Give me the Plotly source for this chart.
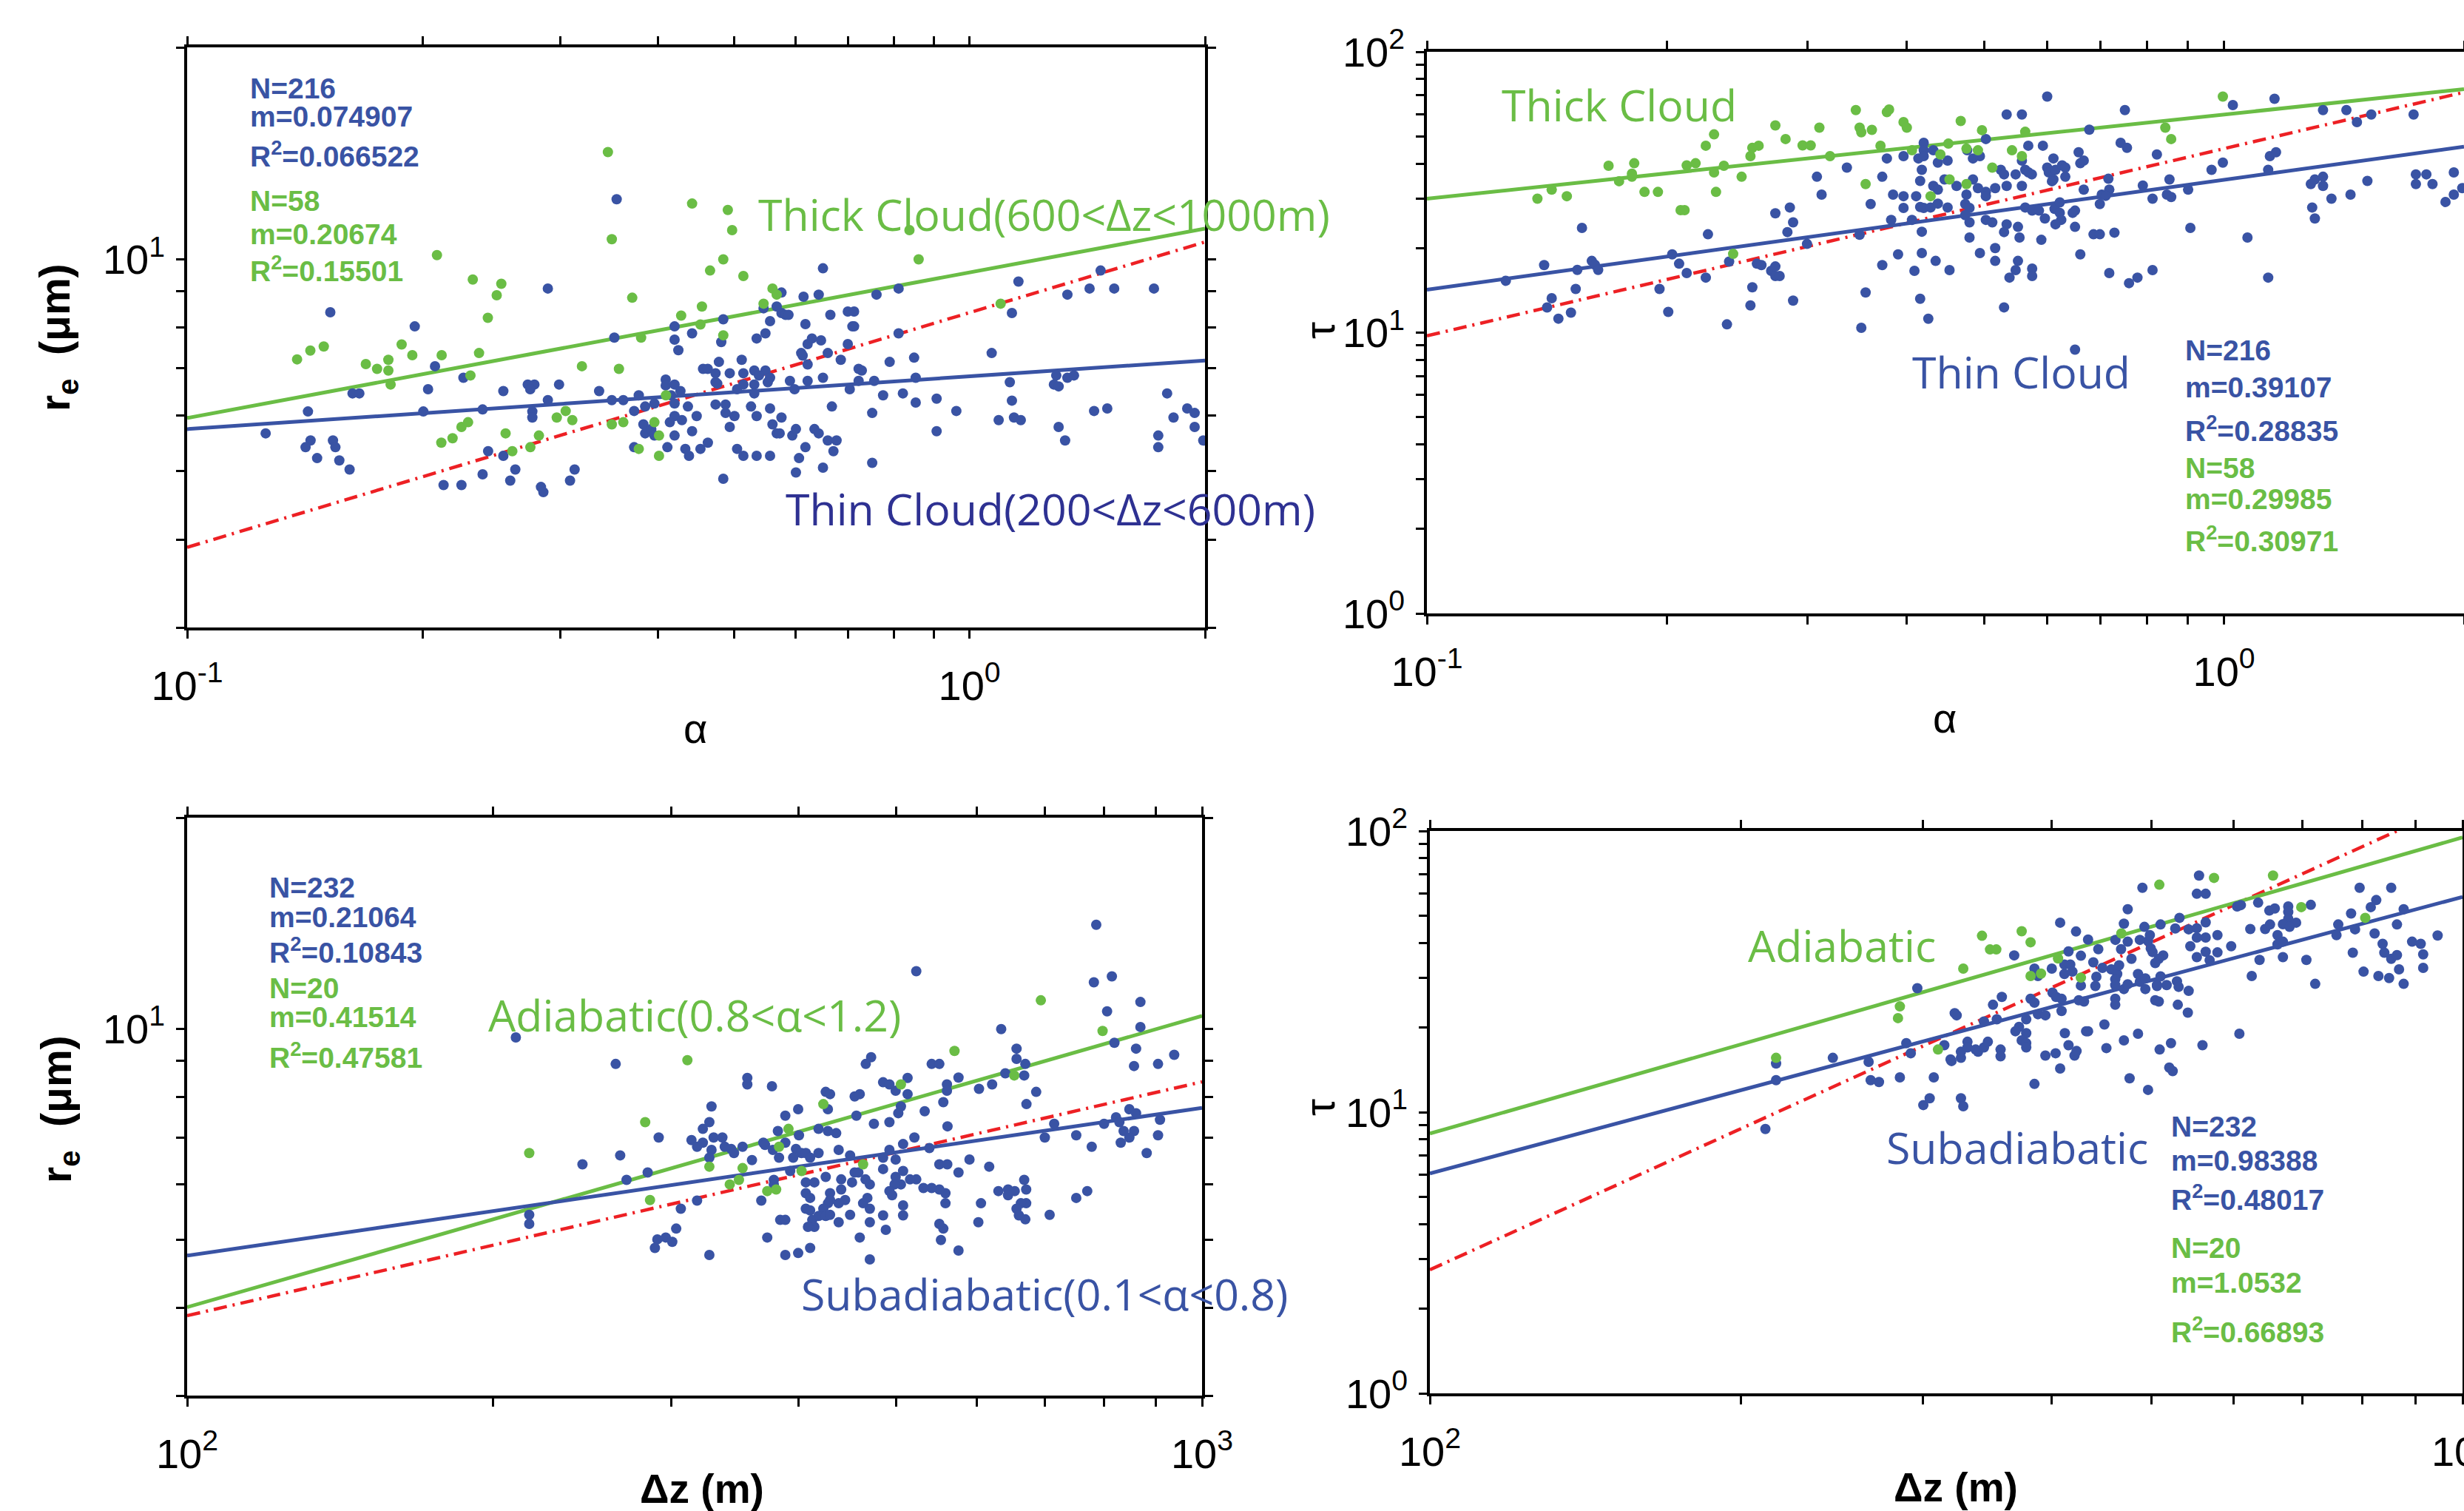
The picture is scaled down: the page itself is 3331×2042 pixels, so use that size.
import math
import plotly.graph_objects as go

W, H = 3331, 2042

# ------------------------------------------------------------------ data
# Panel (a)  alpha  vs  r_e (um)
thin_alpha_re = [
    (0.354, 12.17), (0.2891, 9.09), (0.1524, 8.41), (0.1954, 8.03), (0.2074, 7.05), (0.2255, 6.79),
    (0.2032, 6.54), (0.1627, 6.45), (0.166, 6.45), (0.1427, 6.08), (0.2004, 6.08), (0.2386, 6.12),
    (0.2536, 6.50), (0.2725, 6.64), (0.2779, 6.64), (0.2745, 6.54), (0.2988, 6.64), (0.2891, 6.31),
    (0.2762, 6.08), (0.2762, 5.96), (0.3362, 6.50), (0.349, 6.31), (0.361, 6.31), (0.3778, 6.41),
    (0.385, 6.18), (0.3727, 6.09), (0.3956, 6.24), (0.409, 6.75), (0.409, 6.62), (0.4198, 6.64),
    (0.4271, 6.50), (0.4155, 6.41), (0.4198, 6.24), (0.4366, 6.18), (0.4198, 5.99), (0.414, 5.87),
    (0.429, 5.91), (0.448, 5.99), (0.383, 5.83), (0.385, 5.66), (0.392, 5.74), (0.3956, 5.62),
    (0.4198, 5.62), (0.442, 5.70), (0.3727, 5.41), (0.411, 5.41), (0.4333, 5.38), (0.438, 5.26),
    (0.453, 5.38), (0.126, 5.66), (0.1438, 5.53), (0.1417, 5.41), (0.1536, 5.53), (0.1547, 5.41),
    (0.1466, 5.22), (0.1565, 5.18), (0.1613, 5.03), (0.2425, 5.34), (0.2536, 5.26), (0.2627, 5.03),
    (0.2386, 4.95), (0.2588, 4.85), (0.2127, 4.78), (0.2242, 4.78), (0.2833, 4.75), (0.2853, 4.67),
    (0.3086, 4.85), (0.3128, 5.03), (0.3516, 7.74), (0.4198, 8.03), (0.4198, 7.69), (0.4245, 7.43),
    (0.442, 7.85),
    (0.6497, 9.71), (1.155, 9.30), (0.7606, 8.91), (0.8117, 9.09), (1.334, 8.91), (1.424, 9.09),
    (1.471, 9.64), (1.531, 9.09), (1.721, 9.09), (0.575, 8.97), (0.6136, 8.85), (0.6416, 8.91),
    (1.133, 8.39), (0.5455, 8.52), (0.567, 8.57), (0.575, 8.39), (0.582, 8.34), (0.587, 8.34),
    (0.4845, 8.22), (0.556, 8.17), (0.617, 8.09), (0.664, 8.34), (0.699, 8.43), (0.712, 8.43),
    (0.7085, 8.03), (0.712, 8.03), (0.5345, 7.72), (0.5485, 7.85), (0.4816, 7.63), (0.621, 7.58),
    (0.629, 7.72), (0.646, 7.67), (0.6094, 7.36), (0.612, 7.30), (0.621, 7.09), (0.659, 7.36),
    (0.699, 7.58), (0.6847, 7.20), (0.8117, 7.85), (0.7906, 7.15), (0.8496, 7.25), (1.0675, 7.36),
    (0.4783, 7.15), (0.5115, 7.20), (0.4565, 6.99), (0.4628, 6.99), (0.4736, 6.89), (0.4938, 6.89),
    (0.514, 6.89), (0.5308, 6.95), (0.5485, 6.95), (0.5381, 6.84), (0.556, 6.79), (0.5523, 6.69),
    (0.5308, 6.64), (0.514, 6.64), (0.4736, 6.69), (0.476, 6.66), (0.5046, 6.54), (0.5308, 6.45),
    (0.5895, 6.72), (0.5976, 6.54), (0.621, 6.72), (0.6497, 6.79), (0.7216, 6.99), (0.7284, 6.95),
    (0.7216, 6.72), (0.703, 6.54), (0.7554, 6.72), (0.7755, 6.41), (0.822, 6.45), (0.8536, 6.79),
    (0.8536, 6.26), (0.9078, 6.34), (0.9078, 5.70), (0.962, 6.09), (1.126, 6.69), (1.133, 6.30),
    (1.0897, 5.91), (1.14, 5.96), (1.163, 5.91), (1.291, 6.84), (1.282, 6.64), (1.30, 6.60),
    (1.334, 6.79), (1.36, 6.84), (1.30, 5.78), (1.325, 5.53), (1.443, 6.09), (1.50, 6.14),
    (1.789, 6.45), (1.823, 5.96), (1.898, 6.14), (1.94, 6.05), (1.94, 5.78), (1.99, 5.53),
    (1.743, 5.62), (1.743, 5.41), (0.463, 5.49), (0.4736, 6.22), (0.4878, 6.22), (0.4878, 6.05),
    (0.5007, 5.99), (0.5257, 6.18), (0.5345, 5.99), (0.556, 6.14), (0.575, 5.96), (0.4938, 5.78),
    (0.56, 5.83), (0.567, 5.66), (0.572, 5.66), (0.5936, 5.62), (0.60, 5.74), (0.6336, 5.74),
    (0.6416, 5.66), (0.659, 5.53), (0.6762, 5.53), (0.667, 6.18), (0.751, 6.05), (0.5046, 5.38),
    (0.514, 5.26), (0.5345, 5.26), (0.556, 5.26), (0.617, 5.41), (0.6055, 5.22), (0.67, 5.34),
    (0.6497, 5.06), (0.60, 4.98), (0.751, 5.14), (0.4845, 4.88),
]
thick_alpha_re = [
    (0.345, 14.2), (0.442, 12.0), (0.349, 10.68), (0.2086, 10.14), (0.2318, 9.36), (0.2521, 9.23),
    (0.2487, 8.89), (0.2423, 8.26), (0.3706, 8.82), (0.428, 8.32), (0.455, 8.57), (0.453, 8.08),
    (0.3804, 7.74), (0.1382, 7.21), (0.1437, 7.42), (0.1495, 7.52), (0.1692, 7.10), (0.1749, 6.99),
    (0.1808, 7.20), (0.1808, 6.95), (0.182, 6.64), (0.188, 7.57), (0.194, 7.31), (0.2115, 7.31),
    (0.2361, 7.36), (0.2302, 6.84), (0.3196, 7.05), (0.3564, 6.99), (0.2242, 5.78), (0.2286, 5.87),
    (0.2113, 5.49), (0.2184, 5.57), (0.2553, 5.66), (0.2604, 5.34), (0.2746, 5.41), (0.2816, 5.62),
    (0.2968, 5.96), (0.3047, 6.09), (0.3107, 5.91), (0.349, 5.83), (0.361, 5.87), (0.3778, 5.38),
    (0.3956, 5.87), (0.401, 5.62), (0.401, 5.26), (0.4093, 6.41), (0.491, 11.75), (0.4973, 11.0),
    (0.838, 11.0), (0.4845, 10.0), (0.861, 10.0), (0.466, 9.64), (0.514, 9.47), (0.56, 9.09),
    (0.567, 8.91), (0.5455, 8.65), (0.4845, 7.80), (1.096, 8.65),
]

# Panel (b)  alpha  vs  tau
thin_alpha_tau = [
    (0.1565, 23.6), (0.1256, 15.3), (0.1403, 17.4), (0.1544, 16.73), (0.161, 18.0), (0.1625, 17.44),
    (0.164, 16.73), (0.1537, 14.3), (0.1434, 13.26), (0.1415, 12.29), (0.1462, 11.21), (0.1516, 11.78),
    (0.1958, 14.3), (0.2008, 11.85), (0.2031, 18.99), (0.2072, 17.6), (0.2118, 16.3), (0.2252, 22.4),
    (0.2238, 15.7), (0.2394, 17.9), (0.2379, 10.7), (0.2546, 12.5), (0.256, 14.5), (0.2594, 17.6),
    (0.2628, 17.4), (0.2703, 16.6), (0.2736, 17.2), (0.2736, 15.9), (0.277, 15.9), (0.2736, 26.6),
    (0.2853, 27.9), (0.288, 24.7), (0.2833, 22.8), (0.288, 13.0), (0.2998, 20.7), (0.3085, 35.9),
    (0.3127, 31.0), (0.3364, 38.7), (0.349, 22.3), (0.3551, 13.9), (0.3507, 10.4), (0.3603, 28.7),
    (0.3726, 35.9), (0.3776, 41.7), (0.3844, 31.0), (0.3962, 42.5), (0.3962, 30.6), (0.3962, 27.8),
    (0.3823, 25.2), (0.3726, 17.4), (0.39, 19.0), (0.4089, 16.6), (0.406, 25.2), (0.4109, 30.6),
    (0.4136, 41.7), (0.4157, 34.7), (0.4157, 28.0), (0.4177, 38.0), (0.42, 47.4), (0.42, 44.6),
    (0.42, 42.5), (0.4318, 33.3), (0.4318, 44.6), (0.4375, 40.3), (0.4375, 32.3), (0.42, 27.8),
    (0.4284, 27.9), (0.4177, 22.87), (0.4177, 19.2), (0.4347, 18.0), (0.4157, 13.2), (0.4256, 11.2),
    (0.4375, 28.8), (0.446, 35.1),
    (0.6, 69.3), (0.5337, 59.8), (0.5577, 59.8), (0.751, 62.0), (1.0258, 64.6), (1.157, 68.0),
    (1.331, 62.0), (1.424, 62.0), (1.468, 56.2), (1.53, 59.8), (1.729, 59.8), (0.5026, 48.9),
    (0.4762, 44.6), (0.45, 41.0), (0.4842, 41.7), (0.494, 42.5), (0.5577, 41.0), (0.5681, 46.3),
    (0.5926, 46.3), (0.6776, 52.8), (0.6109, 41.7), (0.657, 43.9), (0.6602, 40.1), (0.6668, 41.0),
    (0.7418, 47.4), (0.7555, 45.5), (0.8237, 43.1), (0.9646, 38.0), (0.9966, 40.3), (1.1416, 42.5),
    (1.162, 43.9), (1.136, 38.0), (0.5247, 38.0), (0.5297, 36.6), (0.5477, 36.6), (0.5631, 38.0),
    (0.5685, 37.2), (0.574, 36.6), (0.6, 38.7), (0.6028, 37.2), (0.6145, 38.0), (0.6264, 39.4),
    (0.6322, 38.7), (0.6322, 35.9), (0.6109, 35.1), (0.6083, 34.6), (0.5577, 33.3), (0.5337, 33.3),
    (0.5163, 32.7), (0.4842, 35.1), (0.4618, 33.3), (0.4912, 32.7), (0.5026, 31.7), (0.5026, 30.6),
    (0.4752, 31.0), (0.6668, 32.3), (0.716, 35.3), (0.8542, 35.1), (0.7909, 33.4), (0.7178, 32.3),
    (0.7024, 31.0), (0.7105, 30.7), (0.6985, 28.7), (0.8134, 30.0), (0.8479, 31.0), (0.8584, 30.4),
    (0.9015, 32.3), (1.285, 33.8), (1.30, 35.1), (1.331, 35.9), (1.331, 33.3), (1.29, 27.9),
    (1.30, 25.5), (1.3638, 30.0), (1.441, 31.0), (1.513, 34.7), (1.7405, 36.6), (1.794, 36.6),
    (1.7405, 33.8), (1.826, 33.8), (1.942, 37.2), (1.99, 32.7), (1.942, 31.0), (1.896, 29.2),
    (0.4735, 28.7), (0.4794, 27.8), (0.45, 27.9), (0.5631, 27.9), (0.5745, 27.2), (0.5859, 27.2),
    (0.6129, 27.6), (0.6222, 29.1), (0.6222, 26.7), (0.6502, 27.2), (0.6458, 26.7), (0.596, 25.5),
    (0.6248, 25.2), (0.6145, 24.3), (0.6502, 23.8), (0.4794, 24.7), (0.4735, 26.2), (0.5026, 25.2),
    (0.512, 24.7), (0.5337, 24.3), (0.5514, 23.8), (0.5297, 22.8), (0.5539, 21.8), (0.5899, 21.4),
    (0.4794, 21.8), (0.494, 19.2), (0.5163, 20.0), (0.5163, 18.0), (0.5514, 18.0), (0.5477, 16.7),
    (0.5745, 16.9), (0.5745, 15.9), (0.5381, 15.7), (0.4525, 16.7), (0.5297, 12.3), (0.6602, 19.0),
    (0.6859, 22.4), (0.6985, 22.4), (0.7286, 22.7), (0.7178, 16.3), (0.76, 15.0), (0.7787, 15.7),
    (0.8134, 16.7), (0.9073, 23.6), (1.07, 21.8), (1.136, 15.7), (0.6502, 8.70),
]
thick_alpha_tau = [
    (0.1376, 30.0), (0.1434, 32.3), (0.1498, 30.6), (0.169, 39.3), (0.1742, 34.6), (0.1808, 35.9),
    (0.1808, 36.8), (0.182, 40.1), (0.1875, 31.7), (0.1949, 31.7), (0.2081, 27.3), (0.2105, 27.3),
    (0.2118, 39.4), (0.2173, 40.1), (0.2238, 46.3), (0.2292, 50.8), (0.2292, 37.2), (0.2305, 31.7),
    (0.2358, 39.3), (0.2482, 35.9), (0.2546, 42.5), (0.256, 45.5), (0.2607, 46.3), (0.2736, 54.7),
    (0.2818, 48.9), (0.296, 46.4), (0.303, 46.4), (0.3107, 53.7), (0.3204, 42.5), (0.3452, 62.0),
    (0.349, 53.7), (0.3507, 51.7), (0.3616, 52.7), (0.3707, 46.3), (0.3776, 61.0), (0.38, 62.3),
    (0.3962, 56.2), (0.4, 53.7), (0.406, 44.6), (0.4407, 43.1), (0.3551, 33.8), (0.4284, 30.6),
    (0.2422, 19.07), (0.4674, 56.7), (0.497, 52.6), (0.451, 47.1), (0.4752, 45.2), (0.4912, 44.6),
    (0.4525, 35.1), (0.4752, 33.8), (0.512, 38.7), (0.542, 44.6), (0.5577, 42.5), (0.5631, 51.9),
    (0.844, 53.7), (0.8584, 48.9), (0.9966, 69.3),
]

# Panel (c)  delta-z (m)  vs  r_e (um)
sub_dz_re = [
    (210.8, 9.72), (264.4, 8.91), (245.2, 6.41), (267.1, 6.6), (271, 6.09), (284.3, 6.24),
    (291.5, 7.0), (217.3, 5.43), (217.3, 5.27), (306.5, 5.54), (318, 5.69), (303.3, 5.19),
    (290.6, 5.01), (296.2, 5.04), (300.6, 4.97), (289, 4.87), (327, 4.76), (328.6, 7.75),
    (327, 7.36), (322.2, 7.20), (314, 6.94), (322.2, 6.88), (318, 6.79), (330.2, 7.0),
    (336.8, 7.0), (328.6, 6.72), (327, 6.55), (338.6, 6.79), (343.6, 6.74), (345.8, 6.65),
    (352.6, 6.79), (356.4, 8.51), (356.4, 8.33), (376.9, 8.28), (360.2, 6.50), (367.9, 5.69),
    (369.6, 6.88), (371, 6.83), (377.7, 6.72), (383, 6.55), (378.5, 6.09), (378.5, 6.00),
    (384, 5.34), (388.5, 5.34), (372.9, 5.04), (388.5, 4.76), (400, 4.79), (388.5, 6.88),
    (388.5, 7.52), (400, 7.68), (398, 6.74), (392.8, 6.27), (395.5, 6.55),
    (786.6, 14.07), (522.9, 12.08), (782.4, 11.65), (815, 11.88), (806.2, 10.59), (869.5, 10.92),
    (869.5, 10.06), (634, 9.99), (819.7, 9.55), (861, 9.37), (857, 8.85), (905, 8.91),
    (938.8, 9.18), (656.5, 9.37), (656.5, 9.06), (669.7, 8.91), (668, 8.58), (640, 8.64),
    (686.4, 8.13), (671.4, 7.81), (621.1, 8.33), (602.9, 8.21), (575.5, 8.52), (560.6, 8.33),
    (560.6, 8.16), (556, 7.86), (541.5, 8.91), (551, 8.91), (512.7, 8.51), (512.7, 8.07),
    (499, 8.16), (505, 7.75), (502, 7.58), (485, 8.39), (492, 8.33), (472, 9.11),
    (466.3, 8.91), (454.7, 8.01), (460, 8.07), (456.5, 7.52), (475, 7.32), (492, 7.36),
    (533, 7.63), (561.3, 7.26), (520.7, 7.0), (507.5, 6.85), (492, 6.72), (485, 6.55),
    (538.7, 6.76), (551, 6.41), (561, 6.41), (590, 6.51), (575.5, 6.24), (617, 6.36),
    (700, 7.0), (715, 7.32), (751.7, 7.05), (778.6, 6.79), (800.7, 7.32), (822.7, 7.48),
    (829, 7.36), (848, 7.68), (861, 7.58), (837, 7.15), (857, 7.15), (848, 7.0),
    (831.6, 6.88), (909, 7.42), (905, 7.05), (882, 6.65), (751.7, 5.74), (770.7, 5.87),
    (707.7, 5.43), (630, 5.87), (644, 5.90), (644, 5.79), (653.8, 5.87), (668, 6.09),
    (671, 5.90), (671, 5.64), (663, 5.64), (656.5, 5.54), (660, 5.42), (669.7, 5.35),
    (605.6, 5.64), (602, 5.30), (575.5, 4.83), (553, 5.0), (556, 5.19), (551, 5.27),
    (558.7, 5.64), (558.7, 5.83), (551, 5.90), (541.5, 5.93), (531.5, 5.93), (522.9, 6.10),
    (515.5, 6.10), (507.5, 5.60), (507.5, 5.42), (505, 6.0), (497.8, 6.0), (495, 5.79),
    (492, 5.87), (499, 6.15), (499, 6.51), (507.5, 6.27), (485, 6.31), (485, 5.42),
    (488, 5.17), (470.6, 6.0), (470.6, 5.30), (470.6, 4.69), (460, 5.04), (470.6, 5.54),
    (463.5, 5.64), (468, 5.74), (466, 6.10), (458.5, 6.24), (454.7, 6.24), (452, 6.04),
    (450, 5.43), (445, 5.70), (441, 6.10), (441, 5.90), (438.5, 6.72), (450, 6.60),
    (436, 7.10), (427.9, 7.15), (418.9, 7.20), (427.9, 7.68), (425.8, 8.13), (430, 8.07),
    (382, 7.15), (400.7, 7.05), (403, 6.65), (407, 6.65), (411, 6.55), (418.9, 6.65),
    (425.8, 6.15), (407, 6.04), (415, 6.04), (407, 5.83), (411, 5.74), (430, 5.83),
    (430, 5.70), (428, 5.64), (423.5, 5.54), (438.5, 5.64), (407, 5.54), (411, 5.51),
    (413, 5.34), (419, 5.41), (425.8, 5.41), (430, 5.43), (415, 5.22), (409, 5.22),
    (438.5, 5.30), (411, 4.87),
]
adi_dz_re = [
    (217.3, 6.65), (311.1, 9.02), (282.7, 7.36), (327, 6.36), (285.8, 5.70), (342.5, 6.0),
    (349.7, 6.09), (352.6, 6.33), (372.9, 5.87), (380.5, 5.90), (383, 6.79), (391.3, 7.20),
    (693.7, 10.98), (798, 9.93), (570.3, 9.30), (653.1, 8.58), (505, 8.33), (423.5, 7.81),
    (463.5, 6.41), (403.1, 6.27),
]

# Panel (d)  delta-z (m)  vs  tau
sub_dz_tau = [
    (211.3, 8.71), (216.4, 14.9), (216.4, 13.0), (245.6, 15.6), (266, 15.1), (267.2, 13.0),
    (272.2, 12.8), (285.2, 13.3), (296.5, 27.6), (289.3, 17.6), (292.2, 16.2), (300.5, 10.6),
    (304.8, 11.2), (307.6, 13.3), (314.9, 17.3), (319.3, 15.4), (320, 15.2), (326.8, 15.6),
    (326.8, 16.4), (331.6, 17.8), (331.6, 17.0), (337.7, 16.7), (339.5, 16.4), (344, 17.0),
    (347, 17.8), (357, 16.7), (357, 15.8), (326.8, 11.2), (328.5, 10.5), (322.3, 22.5),
    (323.7, 22.1), (344, 21.0), (351, 24.1), (358, 25.7), (354, 21.4), (368, 36.1),
    (385, 32.4), (388, 30.5), (400.2, 32.4), (407.7, 47.2), (422.4, 43.9), (415.4, 37.3),
    (427, 36.0), (411.6, 33.5), (417, 33.5), (411.6, 31.0), (419, 31.6), (381.7, 25.3),
    (385, 24.5), (388, 22.3), (394.5, 22.1), (378, 21.4), (400.8, 26.6), (404, 25.7),
    (409, 25.3), (409, 22.9), (427, 28.2), (425, 25.0), (372, 20.1), (369, 19.4),
    (378, 19.1), (374.2, 18.0), (378, 17.6), (378, 17.0), (394.5, 15.9), (403.6, 16.2),
    (407.7, 14.3), (385, 12.6), (412, 19.1), (415.4, 17.3), (421, 15.9), (422.9, 16.5),
    (432, 19.4),
    (489.8, 62.8), (555.7, 69.4), (553, 59.8), (564, 59.8), (474, 52.7), (470, 46.8),
    (492, 45.6), (510, 46.5), (532, 49.1), (527, 45.0), (543, 44.7), (553, 45.1),
    (564, 47.3), (605, 53.9), (610, 54.5), (634, 55.6), (650, 52.1), (658, 53.0),
    (678, 53.9), (678, 51.5), (678, 48.7), (690, 47.2), (670, 46.6), (680, 45.6),
    (713, 54.6), (795, 62.8), (853, 62.8), (825, 56.8), (815, 53.6), (877, 52.7),
    (780, 50.9), (758, 46.5), (755, 42.6), (787, 44.7), (864, 46.5), (822, 43.2),
    (836.8, 39.7), (840, 36.9), (853, 35.1), (864, 36.2), (868, 32.2), (877, 28.6),
    (849, 30.0), (829, 30.5), (802, 31.6), (783, 36.9), (893.7, 40.4), (911, 39.7),
    (916, 36.4), (916, 32.6), (946, 42.5), (720, 28.6), (706, 34.8), (670, 35.6),
    (662, 42.6), (662, 39.5), (670, 40.4), (636, 34.8), (625, 30.5), (623, 44.8),
    (644, 44.8), (651, 46.5), (608, 19.0), (579, 42.6), (564, 41.8), (564, 37.2),
    (553, 41.8), (545, 38.9), (553, 35.6), (569, 34.7), (579, 37.0), (597, 38.9),
    (529, 29.2), (530, 24.1), (543, 27.0), (531, 27.9), (542, 22.6), (560, 17.3),
    (517, 28.3), (506, 28.3), (510, 30.4), (513, 36.1), (508, 35.1), (504, 33.9),
    (501, 37.1), (499, 38.2), (496, 40.6), (498, 42.6), (487, 41.0), (474, 40.4),
    (467, 38.0), (478, 35.1), (461.2, 41.0), (433.9, 41.1), (443.9, 38.0), (439, 34.1),
    (448, 32.6), (457, 32.2), (463, 31.0), (461, 29.7), (465, 33.3), (442, 30.3),
    (441, 28.1), (461, 28.3), (470, 27.4), (474, 28.5), (485, 31.0), (487, 29.1),
    (493, 29.9), (493, 27.4), (504, 25.0), (508, 24.75), (506, 28.1), (430, 24.75),
    (461, 25.3), (461, 24.1), (450, 20.5), (433.9, 19.4), (452, 16.9), (470, 18.0),
    (485, 19.0), (509, 16.7), (522, 17.6), (520, 14.4), (524, 14.0), (476, 13.2),
    (496, 12.0),
]
adi_dz_tau = [
    (216.4, 15.6), (284, 21.6), (285.2, 23.77), (328.5, 32.4), (342.5, 42.4), (348.7, 37.9),
    (353.6, 37.9), (374.2, 44.0), (381.7, 40.2), (405.8, 35.2), (381.7, 30.5), (390.7, 31.1),
    (310.5, 16.7), (427, 30.1), (508.6, 64.4), (574.6, 68.1), (655.4, 69.4), (698, 53.6),
    (805, 49.1), (467.3, 43.2),
]

# power-law fits  y = c * (x / x0) ** m     (c, m)
fit_a = {"thin": (6.82, 0.074907), "thick": (9.58, 0.20674), "ref": (8.40, 1 / 3)}
fit_b = {"thin": (35.0, 0.39107), "thick": (59.8, 0.29985), "ref": (45.2, 2 / 3)}
fit_c = {"thin": (4.75, 0.21064), "thick": (4.01, 0.41514), "ref": (3.90, 1 / 3)}
fit_d = {"thin": (6.05, 0.98388), "thick": (8.39, 1.0532), "ref": (2.75, 5 / 3)}

stats_a = [("N=216", "m=0.074907", "R<sup>2</sup>=0.066522"), ("N=58", "m=0.20674", "R<sup>2</sup>=0.15501")]
stats_b = [("N=216", "m=0.39107", "R<sup>2</sup>=0.28835"), ("N=58", "m=0.29985", "R<sup>2</sup>=0.30971")]
stats_c = [("N=232", "m=0.21064", "R<sup>2</sup>=0.10843"), ("N=20", "m=0.41514", "R<sup>2</sup>=0.47581")]
stats_d = [("N=232", "m=0.98388", "R<sup>2</sup>=0.48017"), ("N=20", "m=1.0532", "R<sup>2</sup>=0.66893")]

# axis ticks (labelled decades + unlabelled intermediate ticks)
alpha_major = {0.1: "10<sup>-1</sup>", 1: "10<sup>0</sup>"}
alpha_minor = [0.2, 0.3, 0.4, 0.5, 0.6, 0.7, 0.8, 0.9, 2]
re_major = {10: "10<sup>1</sup>"}
re_minor = [3, 4, 5, 6, 7, 8, 9, 20]
tau_major = {1: "10<sup>0</sup>", 10: "10<sup>1</sup>", 100: "10<sup>2</sup>"}
tau_minor = [2, 3, 4, 5, 6, 7, 8, 9, 20, 30, 40, 50, 60, 70, 80, 90]
dz_major = {100: "10<sup>2</sup>", 1000: "10<sup>3</sup>"}
dz_minor = [200, 300, 400, 500, 600, 700, 800, 900]

# ------------------------------------------------------------------ style
BLUE = "#3953A4"
NAVY = "#2E3192"
GREEN = "#6ABD45"
RED = "#ED2024"
TICK_FAMILY = "Liberation Sans, Arial, sans-serif"
LABEL_FAMILY = "Open Sans, Noto Sans, sans-serif"

fig = go.Figure()


def add_panel(xa, ya, thin, thick, fit, x0, xr):
    xs = [xr[0], xr[1]]
    for key, col, dash, wd in (("ref", RED, "18px,8px,3px,8px", 4.5), ("thick", GREEN, "solid", 5),
                               ("thin", BLUE, "solid", 5)):
        c, m = fit[key]
        fig.add_trace(go.Scatter(x=xs, y=[c * (v / x0) ** m for v in xs], mode="lines",
                                 line=dict(color=col, width=wd, dash=dash),
                                 xaxis=xa, yaxis=ya, showlegend=False, hoverinfo="skip"))
    for pts, col in ((thin, BLUE), (thick, GREEN)):
        fig.add_trace(go.Scatter(x=[p[0] for p in pts], y=[p[1] for p in pts], mode="markers",
                                 marker=dict(color=col, size=14, line=dict(width=0)),
                                 xaxis=xa, yaxis=ya, showlegend=False))


add_panel("x", "y", thin_alpha_re, thick_alpha_re, fit_a, 1.0, (0.1, 2.0))
add_panel("x2", "y2", thin_alpha_tau, thick_alpha_tau, fit_b, 1.0, (0.1, 2.0))
add_panel("x3", "y3", sub_dz_re, adi_dz_re, fit_c, 100.0, (100, 1000))
add_panel("x4", "y4", sub_dz_tau, adi_dz_tau, fit_d, 100.0, (100, 1000))


def axis(major, minor, rng, dom, anchor, standoff):
    return dict(type="log", range=rng, domain=dom, anchor=anchor, automargin=False,
                tickmode="array", tickvals=list(major.keys()), ticktext=list(major.values()),
                showline=True, linecolor="black", linewidth=3.5, mirror="ticks",
                ticks="outside", ticklen=11, tickwidth=2.5, tickcolor="black",
                minor=dict(tickmode="array", tickvals=minor, ticks="outside", ticklen=11,
                           tickwidth=2.5, tickcolor="black", showgrid=False),
                showgrid=False, zeroline=False, ticklabelstandoff=standoff,
                ticklabeloverflow="allow",
                tickfont=dict(family=TICK_FAMILY, size=56, color="black"))


def px_x(v):
    return v / W


def px_y(v):
    return 1 - v / H


L3, L20 = math.log10(3), math.log10(20)
fig.update_layout(
    width=W, height=H, margin=dict(l=0, r=0, t=0, b=0, pad=0),
    paper_bgcolor="white", plot_bgcolor="white",
    xaxis=axis(alpha_major, alpha_minor, [-1, math.log10(2)], [px_x(253), px_x(1629)], "y", 16),
    yaxis=axis(re_major, re_minor, [L3, L20], [px_y(848), px_y(64)], "x", 4),
    xaxis2=axis(alpha_major, alpha_minor, [-1, math.log10(2)], [px_x(1929), 1.0], "y2", 16),
    yaxis2=axis(tau_major, tau_minor, [0, 2], [px_y(829), px_y(70)], "x2", 4),
    xaxis3=axis(dz_major, dz_minor, [2, 3], [px_x(253), px_x(1625)], "y3", 16),
    yaxis3=axis(re_major, re_minor, [L3, L20], [px_y(1886), px_y(1105)], "x3", 4),
    xaxis4=axis(dz_major, dz_minor, [2, 3], [px_x(1933), px_x(3329)], "y4", 16),
    yaxis4=axis(tau_major, tau_minor, [0, 2], [px_y(1883), px_y(1123)], "x4", 4),
)

anns = []


def text(t, x, y, color, size, family, xanchor="left", yanchor="middle", angle=0):
    anns.append(dict(text=t, x=px_x(x), y=px_y(y), xref="paper", yref="paper",
                     xanchor=xanchor, yanchor=yanchor, showarrow=False, textangle=angle,
                     font=dict(color=color, size=size, family=family)))


def stats(block, x, ys):
    (n1, m1, r1), (n2, m2, r2) = block
    for t, y, c in ((n1, ys[0], BLUE), (m1, ys[1], BLUE), (r1, ys[2], BLUE),
                    (n2, ys[3], GREEN), (m2, ys[4], GREEN), (r2, ys[5], GREEN)):
        text("<b>" + t + "</b>", x, y, c, 39, TICK_FAMILY)


stats(stats_a, 336, [120, 158, 208, 271, 316, 363])
stats(stats_b, 2952, [474, 523, 579, 632, 675, 728])
stats(stats_c, 362, [1199, 1239, 1284, 1335, 1374, 1426])
stats(stats_d, 2933, [1522, 1568, 1618, 1686, 1733, 1797])

text("Thick Cloud(600&lt;\u0394z&lt;1000m)", 1023, 289, GREEN, 59, LABEL_FAMILY)
text("Thin Cloud(200&lt;\u0394z&lt;600m)", 1060, 687, NAVY, 59, LABEL_FAMILY)
text("Thick Cloud", 2028, 141, GREEN, 59, LABEL_FAMILY)
text("Thin Cloud", 2583, 502, BLUE, 59, LABEL_FAMILY)
text("Adiabatic(0.8&lt;\u03b1&lt;1.2)", 658, 1371, GREEN, 59, LABEL_FAMILY)
text("Subadiabatic(0.1&lt;\u03b1&lt;0.8)", 1081, 1748, BLUE, 59, LABEL_FAMILY)
text("Adiabatic", 2361, 1277, GREEN, 59, LABEL_FAMILY)
text("Subadiabatic", 2548, 1550, BLUE, 59, LABEL_FAMILY)

# axis titles
text("<b>r<sub>e</sub>  (\u03bcm)</b>", 78, 456, "black", 57, TICK_FAMILY, "center", "middle", -90)
text("<b>r<sub>e</sub>  (\u03bcm)</b>", 80, 1499, "black", 57, TICK_FAMILY, "center", "middle", -90)
text("\u03b1", 940, 984, "black", 56, TICK_FAMILY, "center", "middle")
text("\u03b1", 2629, 970, "black", 56, TICK_FAMILY, "center", "middle")
text("\u03c4", 1783, 447, "black", 58, TICK_FAMILY, "center", "middle", -90)
text("\u03c4", 1783, 1497, "black", 58, TICK_FAMILY, "center", "middle", -90)
text("<b>\u0394z (m)</b>", 949, 1979, "black", 55, TICK_FAMILY, "center", "top")
text("<b>\u0394z (m)</b>", 2644, 1977, "black", 55, TICK_FAMILY, "center", "top")

fig.update_layout(annotations=anns)

fig.write_html("out.html", config={"displayModeBar": False},
               post_script="document.body.style.margin='0';")
